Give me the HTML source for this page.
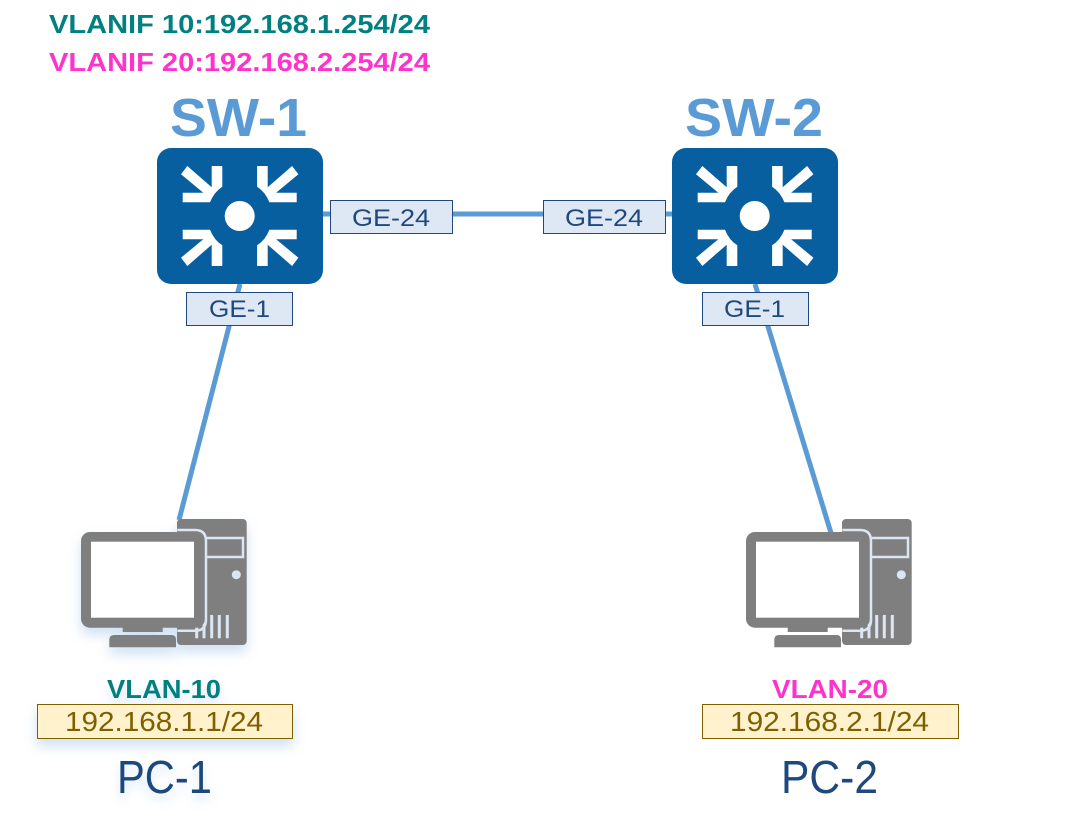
<!DOCTYPE html>
<html><head><meta charset="utf-8"><style>
html,body{margin:0;padding:0;background:#fff;width:1080px;height:820px;overflow:hidden}
svg{display:block}
text{font-family:"Liberation Sans",sans-serif}
</style></head><body>
<svg width="1080" height="820" viewBox="0 0 1080 820" xmlns="http://www.w3.org/2000/svg">
<defs>
<filter id="sh" x="-30%" y="-30%" width="160%" height="180%"><feDropShadow dx="0" dy="7" stdDeviation="6" flood-color="#5b9bd5" flood-opacity="0.3"/></filter>
<filter id="tsh" x="-30%" y="-30%" width="160%" height="180%"><feDropShadow dx="0" dy="6" stdDeviation="5" flood-color="#5b9bd5" flood-opacity="0.25"/></filter>
<g id="arrow"><path d="M30.300 18L54.700 39.300V18H65.300V38.700Q57 44 53 54.300H25.700V44.700H46.300L24 26.300Z" fill="#fff"/></g>
<g id="sw">
<rect x="0" y="0" width="166" height="136" rx="14" fill="#075fa0"/>
<circle cx="82.700" cy="68" r="15" fill="#fff"/>
<use href="#arrow"/>
<use href="#arrow" transform="matrix(-1 0 0 1 165.400 0)"/>
<use href="#arrow" transform="matrix(1 0 0 -1 0 136)"/>
<use href="#arrow" transform="matrix(-1 0 0 -1 165.400 136)"/>
</g>
<g id="pc">
<rect x="177" y="519" width="69.700" height="126" rx="4" fill="#7f7f7f"/>
<path d="M205 538H243V557H205" fill="none" stroke="#dce6f2" stroke-width="2.500"/>
<circle cx="236.300" cy="574.700" r="4.500" fill="#dce6f2"/>
<path d="M196.700 615V638.300M204 615V638.300M211.700 615V638.300M219.300 615V638.300M227.300 615V638.300" stroke="#dce6f2" stroke-width="3"/>
<rect x="81" y="532" width="124" height="95.700" rx="9" fill="#7f7f7f"/>
<path d="M177 530H194Q206 530 206 542V620Q206 632 194 632H177" fill="#7f7f7f" stroke="none" opacity="0"/>
<path d="M177.300 530H195Q206 530 206 541V620Q206 630.700 195 630.700H177.300" fill="none" stroke="#dce6f2" stroke-width="2.500"/>
<rect x="91" y="541.700" width="103" height="76" fill="#fff"/>
<rect x="122.700" y="627" width="40" height="5" fill="#7f7f7f"/>
<path d="M114 635H172Q176 635 176 640V647.300H109.300V640Q109.300 635 114 635Z" fill="#7f7f7f"/>
</g>
</defs>

<rect width="1080" height="820" fill="#fff"/>

<path d="M323 214H672M240 284L179 520M755 284L831 533" stroke="#5b9bd5" stroke-width="5" fill="none"/>

<text x="49" y="33" font-size="26" font-weight="700" fill="#008080" textLength="381" lengthAdjust="spacingAndGlyphs">VLANIF 10:192.168.1.254/24</text>
<text x="49" y="71" font-size="26" font-weight="700" fill="#ff33cc" textLength="381" lengthAdjust="spacingAndGlyphs">VLANIF 20:192.168.2.254/24</text>

<text x="170" y="136" font-size="54" font-weight="700" fill="#5b9bd5" textLength="137" lengthAdjust="spacingAndGlyphs">SW-1</text>
<text x="685" y="136" font-size="54" font-weight="700" fill="#5b9bd5" textLength="138" lengthAdjust="spacingAndGlyphs">SW-2</text>

<use href="#sw" x="157" y="148"/>
<use href="#sw" x="672" y="148"/>

<g fill="#dee8f5" stroke="#1f497d" stroke-width="1">
<rect x="330.500" y="200.500" width="122" height="33"/>
<rect x="543.500" y="200.500" width="122" height="33"/>
<rect x="186.500" y="292.500" width="106" height="33"/>
<rect x="702.500" y="292.500" width="106" height="33"/>
</g>
<g font-size="24" fill="#1f497d">
<text x="352" y="226" textLength="78" lengthAdjust="spacingAndGlyphs">GE-24</text>
<text x="565" y="226" textLength="78" lengthAdjust="spacingAndGlyphs">GE-24</text>
<text x="209" y="317" textLength="61" lengthAdjust="spacingAndGlyphs">GE-1</text>
<text x="724" y="317" textLength="61" lengthAdjust="spacingAndGlyphs">GE-1</text>
</g>

<use href="#pc" filter="url(#sh)"/>
<use href="#pc" transform="translate(665 0)"/>

<text x="107" y="698" font-size="26" font-weight="700" fill="#008080" filter="url(#tsh)" textLength="114" lengthAdjust="spacingAndGlyphs">VLAN-10</text>
<text x="772" y="698" font-size="26" font-weight="700" fill="#ff33cc" textLength="116" lengthAdjust="spacingAndGlyphs">VLAN-20</text>

<rect x="37.500" y="704.500" width="255" height="34" fill="#fff2cc" stroke="#7f6000" stroke-width="1" filter="url(#sh)"/>
<rect x="702.500" y="704.500" width="256" height="34" fill="#fff2cc" stroke="#7f6000" stroke-width="1"/>
<text x="65" y="731" font-size="28" fill="#7f6000" textLength="198" lengthAdjust="spacingAndGlyphs">192.168.1.1/24</text>
<text x="730" y="731" font-size="28" fill="#7f6000" textLength="199" lengthAdjust="spacingAndGlyphs">192.168.2.1/24</text>

<text x="117" y="793" font-size="46" fill="#1f497d" filter="url(#tsh)" textLength="95" lengthAdjust="spacingAndGlyphs">PC-1</text>
<text x="781" y="793" font-size="46" fill="#1f497d" textLength="97" lengthAdjust="spacingAndGlyphs">PC-2</text>
</svg>
</body></html>
